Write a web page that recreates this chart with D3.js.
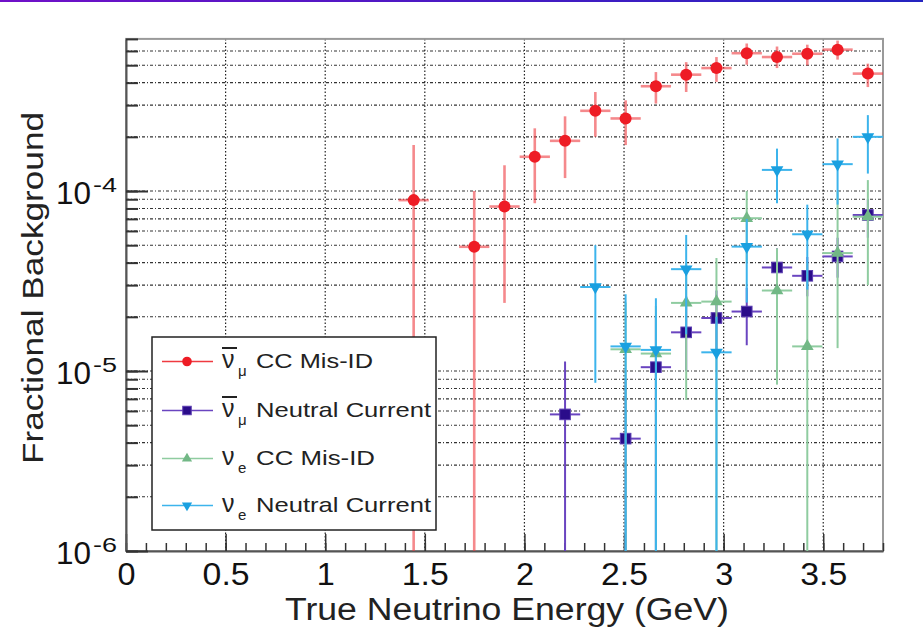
<!DOCTYPE html>
<html>
<head>
<meta charset="utf-8">
<script src="https://cdn.jsdelivr.net/npm/d3@7"></script>
<style>
body { margin: 0; background: #fff; }
text { font-family: "Liberation Sans", Arial, sans-serif; }
</style>
</head>
<body>
<div id="chart"></div>
<script>
// Create datasets (1e-7 = bar runs off the bottom)

// anti-numu CC Mis-ID
const redX  = [1.444, 1.748, 1.900, 2.052, 2.204, 2.356, 2.508, 2.660, 2.812, 2.964, 3.116, 3.268, 3.420, 3.572, 3.724];
const redY  = [8.9e-5, 4.9e-5, 8.2e-5, 1.55e-4, 1.9e-4, 2.79e-4, 2.53e-4, 3.82e-4, 4.43e-4, 4.82e-4, 5.83e-4, 5.55e-4, 5.79e-4, 6.1e-4, 4.49e-4];
const redHi = [1.8e-4, 1.0e-4, 1.39e-4, 2.23e-4, 2.6e-4, 3.55e-4, 3.19e-4, 4.58e-4, 5.2e-4, 5.55e-4, 6.6e-4, 6.35e-4, 6.5e-4, 6.85e-4, 5.1e-4];
const redLo = [1e-7, 1e-7, 2.39e-5, 8.55e-5, 1.18e-4, 2.0e-4, 1.8e-4, 3.06e-4, 3.55e-4, 4.04e-4, 5.03e-4, 4.82e-4, 4.99e-4, 5.37e-4, 3.78e-4];

// anti-numu Neutral Current
const purX  = [2.204, 2.508, 2.660, 2.812, 2.964, 3.116, 3.268, 3.420, 3.572, 3.724];
const purY  = [5.74e-6, 4.21e-6, 1.05e-5, 1.64e-5, 1.97e-5, 2.14e-5, 3.76e-5, 3.38e-5, 4.33e-5, 7.36e-5];
const purHi = [1.13e-5, 9e-6, 2.0e-5, 2.6e-5, 2.8e-5, 2.9e-5, 4.8e-5, 4.3e-5, 5.5e-5, 9e-5];
const purLo = [1e-7, 1e-7, 1e-7, 1.0e-5, 1.3e-5, 1.39e-5, 2.9e-5, 2.6e-5, 3.3e-5, 5.5e-5];

// nue CC Mis-ID
const grnX  = [2.508, 2.660, 2.812, 2.964, 3.116, 3.268, 3.420, 3.572, 3.724];
const grnY  = [1.32e-5, 1.25e-5, 2.39e-5, 2.43e-5, 7.06e-5, 2.8e-5, 1.37e-5, 4.52e-5, 7.2e-5];
const grnHi = [2.4e-5, 2.3e-5, 4.0e-5, 4.24e-5, 1.0e-4, 4.8e-5, 4.0e-5, 1.0e-4, 1.15e-4];
const grnLo = [1e-7, 1e-7, 6.9e-6, 1e-7, 4.0e-5, 8.4e-6, 1e-7, 1.34e-5, 3.0e-5];

// nue Neutral Current
const bluX  = [2.356, 2.508, 2.660, 2.812, 2.964, 3.116, 3.268, 3.420, 3.572, 3.724];
const bluY  = [2.93e-5, 1.37e-5, 1.31e-5, 3.68e-5, 1.27e-5, 4.91e-5, 1.31e-4, 5.75e-5, 1.41e-4, 2.0e-4];
const bluHi = [5.0e-5, 2.67e-5, 2.54e-5, 5.7e-5, 2.0e-5, 7.0e-5, 1.72e-4, 8.4e-5, 1.96e-4, 2.64e-4];
const bluLo = [8.6e-6, 1e-7, 1e-7, 1.6e-5, 1e-7, 2.4e-5, 8.55e-5, 2.83e-5, 8.4e-5, 1.25e-4];

const binHalf = 0.076;
const xMajorTicks = [0, 0.5, 1, 1.5, 2, 2.5, 3, 3.5];
const yDecades = [1e-6, 1e-5, 1e-4];

const W = 923, H = 634;
const margin = {top: 38.9, right: 40, bottom: 83, left: 126};
const plotW = W - margin.left - margin.right;
const plotH = H - margin.top - margin.bottom;

const svg = d3.select("#chart").append("svg")
	.attr("width", W)
	.attr("height", H);

// thin gradient strip on top of the page
const grad = svg.append("defs").append("linearGradient").attr("id", "topbar");
grad.append("stop").attr("offset", "0%").attr("stop-color", "#7010c8");
grad.append("stop").attr("offset", "100%").attr("stop-color", "#2424c0");
svg.append("rect").attr("x", 0).attr("y", 0).attr("width", W).attr("height", 2).attr("fill", "url(#topbar)");

svg.select("defs").append("clipPath").attr("id", "plotclip")
	.append("rect").attr("width", plotW).attr("height", plotH);

const g = svg.append("g").attr("transform", `translate(${margin.left},${margin.top})`);

const x = d3.scaleLinear().domain([0, 3.8]).range([0, plotW]);
const y = d3.scaleLog().domain([1e-6, 7e-4]).range([plotH, 0]);

// log ticks 1..9 per decade
const yAllTicks = [];
for (const d of yDecades) {
	for (let m = 1; m <= 9; m++) {
		const v = d * m;
		if (v <= 7e-4 * 1.0001) yAllTicks.push(v);
	}
}
yAllTicks.push(2e-4, 3e-4, 4e-4, 5e-4, 6e-4, 7e-4);
const yTicks = Array.from(new Set(yAllTicks.map(v => +v.toPrecision(3)))).sort((a, b) => a - b);

// grid
g.append("g").selectAll("line")
	.data(yTicks.filter(v => v > 1e-6 && v < 6.99e-4))
	.join("line")
	.attr("x1", 0).attr("x2", plotW)
	.attr("y1", d => y(d)).attr("y2", d => y(d))
	.attr("stroke", "#333").attr("stroke-width", 1.1)
	.attr("stroke-dasharray", "3,2,1,2");
g.append("g").selectAll("line")
	.data(xMajorTicks.filter(v => v > 0))
	.join("line")
	.attr("x1", d => x(d)).attr("x2", d => x(d))
	.attr("y1", 0).attr("y2", plotH)
	.attr("stroke", "#222").attr("stroke-width", 1.2)
	.attr("stroke-dasharray", "1.5,2");

// frame
g.append("rect").attr("width", plotW).attr("height", plotH)
	.attr("fill", "none").attr("stroke", "#9a9a9a").attr("stroke-width", 2);

// x axis: minor and major inward ticks
const xMinor = d3.range(0, 3.81, 0.1).map(v => +v.toFixed(1));
g.append("g").attr("transform", `translate(0,${plotH})`)
	.call(d3.axisBottom(x).tickValues(xMinor).tickSize(-8).tickSizeOuter(0).tickFormat(""))
	.call(a => a.selectAll("line").attr("stroke", "#333").attr("stroke-width", 1.5))
	.call(a => a.select(".domain").attr("stroke", "#555").attr("stroke-width", 2));
g.append("g").attr("transform", `translate(0,${plotH})`)
	.call(d3.axisBottom(x).tickValues(xMajorTicks).tickSize(-17).tickSizeOuter(0).tickPadding(12).tickFormat(d3.format("")))
	.call(a => a.select(".domain").remove())
	.call(a => a.selectAll("line").attr("stroke", "#333").attr("stroke-width", 1.5))
	.call(a => a.selectAll("text")
		.attr("fill", "#111")
		.style("font-size", "31px")
		.attr("textLength", d => (d % 1 ? 47 : 18))
		.attr("lengthAdjust", "spacingAndGlyphs"));

// y axis: inward ticks
g.append("g")
	.call(d3.axisLeft(y).tickValues(yTicks).tickSize(-12).tickSizeOuter(0).tickFormat(""))
	.call(a => a.selectAll("line").attr("stroke", "#333").attr("stroke-width", 2))
	.call(a => a.select(".domain").attr("stroke", "#555").attr("stroke-width", 2));
g.append("g")
	.call(d3.axisLeft(y).tickValues(yDecades).tickSize(-22).tickSizeOuter(0).tickFormat(""))
	.call(a => a.select(".domain").remove())
	.call(a => a.selectAll("line").attr("stroke", "#333").attr("stroke-width", 2));

// y labels 10^n
const yl = g.append("g").selectAll("g").data(yDecades).join("g");
yl.append("text")
	.attr("x", 56 - margin.left).attr("y", d => y(d) + 13)
	.attr("fill", "#111").style("font-size", "32px")
	.attr("textLength", 35).attr("lengthAdjust", "spacingAndGlyphs")
	.text("10");
yl.append("text")
	.attr("x", 93 - margin.left).attr("y", d => y(d) + 1)
	.attr("fill", "#111").style("font-size", "20px")
	.attr("textLength", 24).attr("lengthAdjust", "spacingAndGlyphs")
	.text(d => "-" + Math.round(-Math.log10(d)));

// axis titles
svg.append("text")
	.attr("x", 507).attr("y", 620)
	.attr("text-anchor", "middle")
	.attr("fill", "#222").style("font-size", "31px")
	.attr("textLength", 444).attr("lengthAdjust", "spacingAndGlyphs")
	.text("True Neutrino Energy (GeV)");
svg.append("text")
	.attr("transform", "translate(43,288) rotate(-90)")
	.attr("text-anchor", "middle")
	.attr("fill", "#222").style("font-size", "29px")
	.attr("textLength", 352).attr("lengthAdjust", "spacingAndGlyphs")
	.text("Fractional Background");

// series
const series = [
	{name: "CC Mis-ID", bar: true, sub: "\u03bc", xs: redX, ys: redY, hi: redHi, lo: redLo,
		line: "#ef3a40", lineOp: 0.6, lw: 2.6, fill: "#ee1c25", stroke: "#ee1c25", shape: "circle", legendLen: 117},
	{name: "Neutral Current", bar: true, sub: "\u03bc", xs: purX, ys: purY, hi: purHi, lo: purLo,
		line: "#6a45c0", lineOp: 1, lw: 2, fill: "#2a0c8a", stroke: "#5a3cb0", shape: "square", legendLen: 175},
	{name: "CC Mis-ID", bar: false, sub: "e", xs: grnX, ys: grnY, hi: grnHi, lo: grnLo,
		line: "#8fcca0", lineOp: 1, lw: 2, fill: "#72b886", stroke: "#72b886", shape: "up", legendLen: 119},
	{name: "Neutral Current", bar: false, sub: "e", xs: bluX, ys: bluY, hi: bluHi, lo: bluLo,
		line: "#3cb4ec", lineOp: 1, lw: 2, fill: "#1aa0e0", stroke: "#1aa0e0", shape: "down", legendLen: 175}
];

function drawMarker(sel, s, scale) {
	if (s.shape == "circle") {
		sel.append("circle").attr("r", 6 * scale).attr("fill", s.fill);
	} else if (s.shape == "square") {
		const h = 5.3 * scale;
		sel.append("rect").attr("x", -h).attr("y", -h).attr("width", 2 * h).attr("height", 2 * h)
			.attr("fill", s.fill).attr("stroke", s.stroke).attr("stroke-width", 1);
	} else {
		sel.append("path")
			.attr("d", d3.symbol().type(d3.symbolTriangle).size(70 * scale * scale)())
			.attr("transform", s.shape == "down" ? "rotate(180)" : null)
			.attr("fill", s.fill);
	}
}

const plot = g.append("g").attr("clip-path", "url(#plotclip)");
series.forEach(s => {
	const pts = s.xs.map((v, i) => ({x: v, y: s.ys[i], hi: s.hi[i], lo: s.lo[i]}));
	const sg = plot.append("g");
	sg.selectAll(".ev").data(pts).join("line")
		.attr("x1", d => x(d.x)).attr("x2", d => x(d.x))
		.attr("y1", d => y(d.lo)).attr("y2", d => y(d.hi))
		.attr("stroke", s.line).attr("stroke-opacity", s.lineOp).attr("stroke-width", s.lw);
	sg.selectAll(".eh").data(pts).join("line")
		.attr("x1", d => x(d.x - binHalf)).attr("x2", d => x(d.x + binHalf))
		.attr("y1", d => y(d.y)).attr("y2", d => y(d.y))
		.attr("stroke", s.line).attr("stroke-opacity", s.lineOp).attr("stroke-width", s.lw);
	sg.selectAll(".mk").data(pts).join("g")
		.attr("transform", d => `translate(${x(d.x)},${y(d.y)})`)
		.each(function() { drawMarker(d3.select(this), s, 1); });
});

// legend
const leg = svg.append("g");
leg.append("rect").attr("x", 152).attr("y", 337).attr("width", 284).attr("height", 193)
	.attr("fill", "#fff").attr("stroke", "#222").attr("stroke-width", 1.5);
const rowY = [361.5, 410.5, 458.5, 505.5];
series.forEach((s, i) => {
	const ry = rowY[i];
	leg.append("line").attr("x1", 162).attr("x2", 213).attr("y1", ry).attr("y2", ry)
		.attr("stroke", s.line).attr("stroke-width", 1.5);
	const m = leg.append("g").attr("transform", `translate(187,${ry})`);
	drawMarker(m, s, 0.8);
	const base = ry + 6.5;
	leg.append("text").attr("x", 222).attr("y", base).attr("fill", "#222")
		.style("font-size", "25px").text("\u03bd");
	if (s.bar) {
		leg.append("line").attr("x1", 222).attr("x2", 237).attr("y1", base - 20).attr("y2", base - 20)
			.attr("stroke", "#222").attr("stroke-width", 2);
	}
	leg.append("text").attr("x", 238).attr("y", base + 8).attr("fill", "#222")
		.style("font-size", "15px").text(s.sub);
	leg.append("text").attr("x", 256).attr("y", base).attr("fill", "#222")
		.style("font-size", "21px")
		.attr("textLength", s.legendLen).attr("lengthAdjust", "spacingAndGlyphs")
		.text(s.name);
});
</script>
</body>
</html>
